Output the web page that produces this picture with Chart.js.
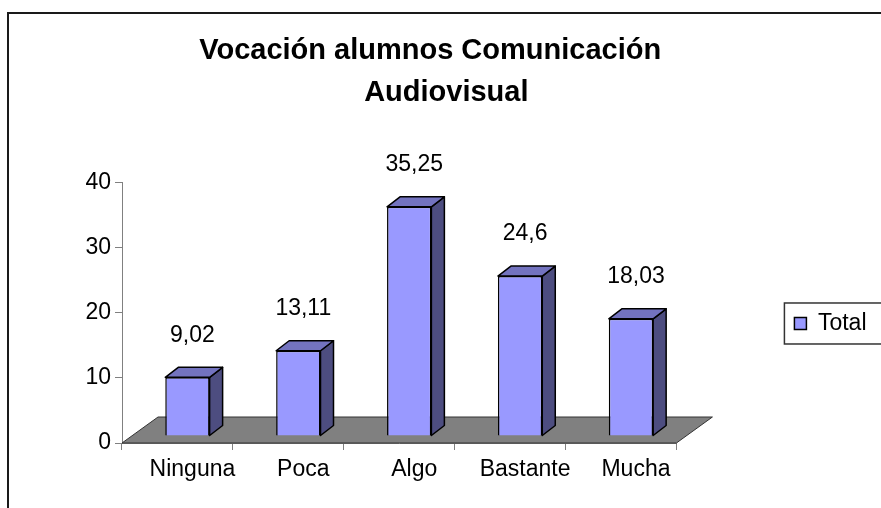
<!DOCTYPE html>
<html>
<head>
<meta charset="utf-8">
<title>Vocación alumnos Comunicación Audiovisual</title>
<script src="https://cdn.jsdelivr.net/npm/chart.js@4.4.1/dist/chart.umd.min.js"></script>
<style>
  html, body { margin: 0; padding: 0; background: #fff; }
  canvas { display: block; }
</style>
</head>
<body>
<canvas id="chart" width="881" height="508"></canvas>
<script>
// Datos
const categories = ['Ninguna', 'Poca', 'Algo', 'Bastante', 'Mucha'];
const totals = [9.02, 13.11, 35.25, 24.6, 18.03];
const yTicks = [0, 10, 20, 30, 40];
const seriesName = 'Total';
const titleLines = ['Vocación alumnos Comunicación\u00a0\u00a0', '\u00a0\u00a0Audiovisual'];

// Colores del efecto 3D
const FRONT = '#9999ff';
const TOP = '#7373bf';
const SIDE = '#4d4d80';
const FLOOR = '#808080';

// Geometría 3D (px)
const FLOOR_DEPTH = { dx: 36, dy: -26 };
const BAR_SHIFT = { dx: 10, dy: -7 };
const BAR_DEPTH = { dx: 13, dy: -10 };

Chart.defaults.font.family = "'Liberation Sans', Arial, sans-serif";
Chart.defaults.color = '#000';

const fmt = v => String(v).replace('.', ',');

function poly(ctx, pts, fill, stroke, lw) {
  ctx.beginPath();
  ctx.moveTo(pts[0][0], pts[0][1]);
  for (let i = 1; i < pts.length; i++) ctx.lineTo(pts[i][0], pts[i][1]);
  ctx.closePath();
  ctx.fillStyle = fill;
  ctx.fill();
  ctx.lineWidth = lw;
  ctx.strokeStyle = stroke;
  ctx.stroke();
}

/* ===============================
   Plugin: marco, suelo y caras 3D
=============================== */
const bars3d = {
  id: 'bars3d',
  afterLayout(chart) {
    // bajar un poco la leyenda
    chart.legend.top += 10.5;
    chart.legend.bottom += 10.5;
  },
  beforeDraw(chart) {
    const ctx = chart.ctx;
    ctx.save();
    // marco exterior
    ctx.strokeStyle = '#1a1a1a';
    ctx.lineWidth = 2;
    ctx.strokeRect(8, 13, 1000, 1000);
    // marco de la leyenda
    const hb = chart.legend.legendHitBoxes?.[0];
    if (hb) {
      const cy = hb.top + hb.height / 2;
      ctx.strokeStyle = '#333';
      ctx.lineWidth = 1.5;
      ctx.strokeRect(hb.left - 10, cy - 20.5, 200, 41);
    }
    ctx.restore();
  },
  beforeDatasetsDraw(chart) {
    const ctx = chart.ctx;
    const { left, right } = chart.scales.x;
    const b = chart.scales.y.getPixelForValue(0);
    ctx.save();
    poly(ctx, [
      [left, b], [right, b],
      [right + FLOOR_DEPTH.dx, b + FLOOR_DEPTH.dy],
      [left + FLOOR_DEPTH.dx, b + FLOOR_DEPTH.dy]
    ], FLOOR, '#333', 1);
    ctx.restore();

    ctx.save();
    ctx.translate(BAR_SHIFT.dx, BAR_SHIFT.dy);
  },
  afterDatasetsDraw(chart) {
    const ctx = chart.ctx;
    const meta = chart.getDatasetMeta(0);
    ctx.lineJoin = 'round';
    meta.data.forEach(bar => {
      const { x, y, base, width } = bar.getProps(['x', 'y', 'base', 'width'], true);
      const l = x - width / 2, r = x + width / 2;
      // cara lateral
      poly(ctx, [
        [r, y], [r + BAR_DEPTH.dx, y + BAR_DEPTH.dy],
        [r + BAR_DEPTH.dx, base + BAR_DEPTH.dy], [r, base]
      ], SIDE, '#000', 1.5);
      // cara superior
      poly(ctx, [
        [l, y], [l + BAR_DEPTH.dx, y + BAR_DEPTH.dy],
        [r + BAR_DEPTH.dx, y + BAR_DEPTH.dy], [r, y]
      ], TOP, '#000', 1.5);
    });
    ctx.restore();

    // etiquetas de valor
    ctx.save();
    ctx.font = "23px 'Liberation Sans', Arial, sans-serif";
    ctx.fillStyle = '#000';
    ctx.textAlign = 'center';
    ctx.textBaseline = 'middle';
    meta.data.forEach((bar, i) => {
      ctx.fillText(fmt(totals[i]), bar.x + 15, bar.y - 49);
    });
    ctx.restore();
  }
};

new Chart(document.getElementById('chart'), {
  type: 'bar',
  data: {
    labels: categories,
    datasets: [{
      label: seriesName,
      data: totals,
      backgroundColor: FRONT,
      borderColor: '#000',
      borderWidth: 1.5,
      barPercentage: 0.4,
      categoryPercentage: 1,
      clip: false
    }]
  },
  options: {
    responsive: false,
    animation: false,
    layout: { padding: { left: 0, right: 4.5, top: 0, bottom: 0 } },
    plugins: {
      title: {
        display: true,
        text: titleLines,
        color: '#000',
        font: { size: 29, weight: 'bold', lineHeight: 1.448 },
        padding: { top: 30, bottom: 69 }
      },
      legend: {
        position: 'right',
        fullSize: false,
        labels: {
          boxWidth: 12,
          boxHeight: 12,
          padding: 118,
          color: '#000',
          font: { size: 23 }
        }
      },
      tooltip: { enabled: false }
    },
    scales: {
      x: {
        grid: { drawOnChartArea: false, color: '#808080', tickLength: 7, offset: true },
        border: { color: '#808080' },
        ticks: { font: { size: 23 }, color: '#000', padding: 6, labelOffset: 15, maxRotation: 0, autoSkip: false },
        afterFit: s => { s.height = 65; }
      },
      y: {
        min: 0,
        max: 40,
        afterBuildTicks: s => { s.ticks = yTicks.map(v => ({ value: v })); },
        grid: { drawOnChartArea: false, color: '#808080', tickLength: 7 },
        border: { color: '#808080' },
        ticks: { font: { size: 23 }, color: '#000', padding: 4 },
        afterFit: s => { s.width = 122; }
      }
    }
  },
  plugins: [bars3d]
});
</script>
</body>
</html>
